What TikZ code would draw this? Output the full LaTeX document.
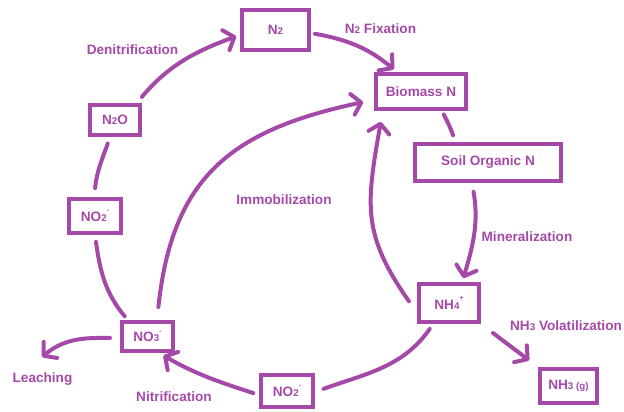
\documentclass[tikz,border=0pt]{standalone}
\usepackage{fontspec}
\setmainfont{Liberation Sans}
\usetikzlibrary{arrows.meta}

\definecolor{cyclepurple}{RGB}{165,73,168}
\newcommand{\chsub}[1]{{\fontsize{9.8}{10}\selectfont #1}}
\newcommand{\chsup}[1]{\raisebox{0.62em}{\fontsize{7}{7}\selectfont #1}}

\begin{document}
\begin{tikzpicture}[
  x=1pt, y=1pt, font=\fontsize{13.6}{16}\selectfont\bfseries,
  >={Straight Barb[length=9pt,width=21pt,round]},
  box/.style={draw=cyclepurple, line width=4pt, text=cyclepurple, inner sep=0pt},
  lbl/.style={text=cyclepurple, inner sep=0pt, anchor=base},
  flow/.style={draw=cyclepurple, line width=4pt, line cap=round}]
  \useasboundingbox (0,0) rectangle (624,412);

  % species
  \node[box, minimum width=67pt, minimum height=40pt] (n2) at (275.5,382) {N\chsub{2}};
  \node[box, minimum width=90pt, minimum height=35pt] (bio) at (421,320.5) {Biomass N};
  \node[box, minimum width=146pt, minimum height=37pt] (soil) at (488,249.5) {Soil Organic N};
  \node[box, minimum width=50pt, minimum height=30pt] (n2o) at (115,292) {N\chsub{2}O};
  \node[box, minimum width=52pt, minimum height=34pt] (no2l) at (95,196) {NO\chsub{2}\chsup{-}};
  \node[box, minimum width=51pt, minimum height=29pt] (no3) at (147.5,75.5) {NO\chsub{3}\chsup{-}};
  \node[box, minimum width=60pt, minimum height=38pt] (nh4) at (449,109) {NH\chsub{4}\chsup{+}};
  \node[box, minimum width=57pt, minimum height=34pt] (nh3) at (568.5,26) {NH\chsub{3 (g)}};
  \node[box, minimum width=52pt, minimum height=32pt] (no2b) at (287,21) {NO\chsub{2}\chsup{-}};

  % process names
  \node[lbl] (denit) at (132.5,357) {Denitrification};
  \node[lbl] (fix) at (380.5,378) {N\chsub{2} Fixation};
  \node[lbl] (immo) at (284,207) {Immobilization};
  \node[lbl] (mine) at (527,170) {Mineralization};
  \node[lbl] (vola) at (566,81) {NH\chsub{3} Volatilization};
  \node[lbl] (leach) at (42.5,29) {Leaching};
  \node[lbl] (nitr) at (174,10) {Nitrification};
  \coordinate (leachtip) at (42,55);

  % cycle
  \draw[flow, ->, shorten <=8pt, shorten >=4pt] (n2o.38) to[out=50, in=200] (n2.188);
  \draw[flow, ->, shorten <=4pt, shorten >=4pt] (n2.-5) to[out=-10, in=140] (bio.141);
  \draw[flow, shorten <=4pt, shorten >=7pt] (bio.-43) to[out=-62, in=108] (soil.148);
  \draw[flow, ->, shorten <=9pt, shorten >=4pt] (soil.-128) to[out=-80, in=73] (nh4.58);
  \draw[flow, ->, shorten <=14pt, shorten >=11pt] (nh4.-163) to[out=125, in=-100, looseness=1.2] (bio.-153);
  \draw[flow, shorten <=6pt, shorten >=9pt] (nh4.-127) to[out=-125, in=20] (no2b.-2);
  \draw[flow, ->, shorten <=6pt, shorten >=5pt] (no2b.188) to[out=162, in=-30] (no3.-55);
  \draw[flow, shorten <=5pt, shorten >=7pt] (no3.140) to[out=130, in=-82] (no2l.south);
  \draw[flow, shorten <=9pt, shorten >=7pt] (no2l.92) to[out=85, in=-110] (n2o.-106);
  \draw[flow, ->, shorten <=13pt, shorten >=11pt] (no3.60) to[out=84, in=192, looseness=1.2] (bio.190);
  \draw[flow, ->, shorten <=10pt] (no3.183) to[out=180, in=40] (leachtip);
  \draw[flow, ->, shorten <=15pt, shorten >=11pt] (nh4.south east) -- (nh3.north west);
\end{tikzpicture}
\end{document}
